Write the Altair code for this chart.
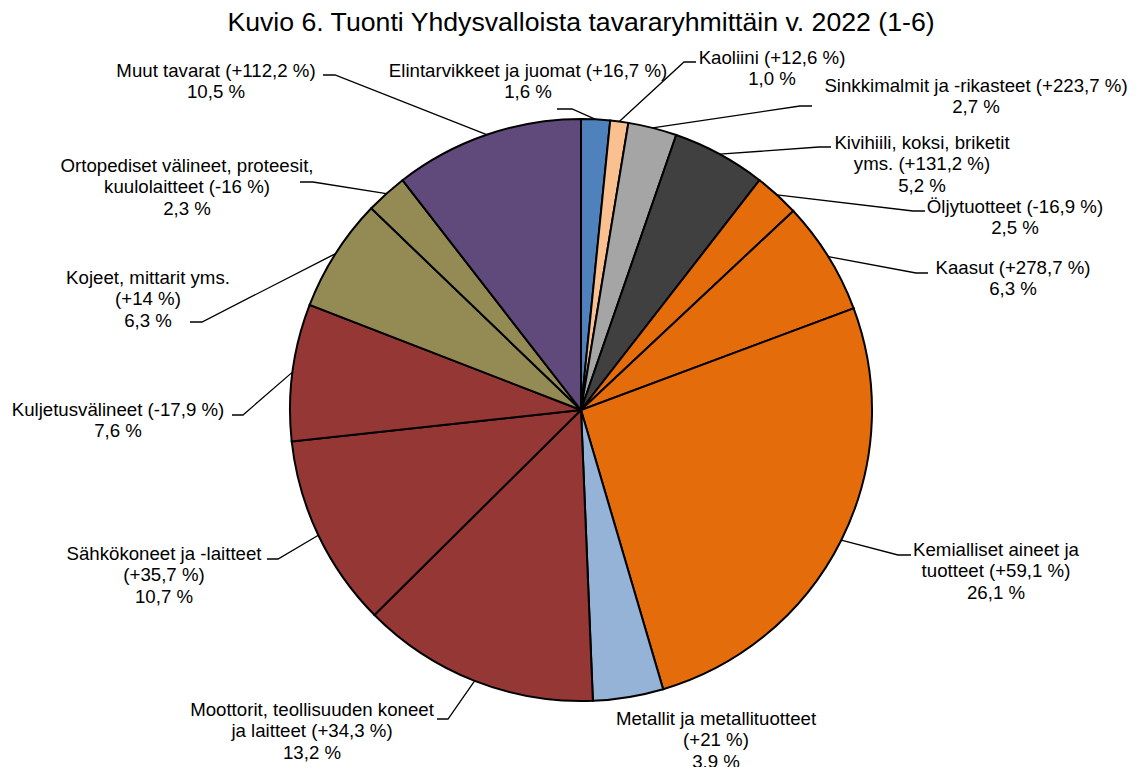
import math
import textwrap
import pandas as pd
import altair as alt

# ---------------- data ----------------
categories = [
    "Elintarvikkeet ja juomat",
    "Kaoliini",
    "Sinkkimalmit ja -rikasteet",
    "Kivihiili, koksi, briketit yms.",
    "Öljytuotteet",
    "Kaasut",
    "Kemialliset aineet ja tuotteet",
    "Metallit ja metallituotteet",
    "Moottorit, teollisuuden koneet ja laitteet",
    "Sähkökoneet ja -laitteet",
    "Kuljetusvälineet",
    "Kojeet, mittarit yms.",
    "Ortopediset välineet, proteesit, kuulolaitteet",
    "Muut tavarat",
]
shares = [1.6, 1.0, 2.7, 5.2, 2.5, 6.3, 26.1, 3.9, 13.2, 10.7, 7.6, 6.3, 2.3, 10.5]
changes = [16.7, 12.6, 223.7, 131.2, -16.9, 278.7, 59.1, 21, 34.3, 35.7, -17.9, 14, -16, 112.2]
slice_colors = [
    "#4F81BD", "#FAC090", "#A5A5A5", "#404040", "#E46C0A", "#E46C0A", "#E46C0A",
    "#95B3D7", "#953735", "#953735", "#953735", "#948A54", "#948A54", "#604A7B",
]
TITLE = "Kuvio 6. Tuonti Yhdysvalloista tavararyhmittäin v. 2022 (1-6)"

# ---------------- layout (page pixels) ----------------
FONT = "Liberation Sans"
PAGE_MARGIN = 8
PIE_CX, PIE_CY, R = 581, 410, 291
PAD_T, PAD_B, PAD_L = 60, 15, 73
W = 1000
H = 2 * (PIE_CY - PAGE_MARGIN - PAD_T)
PAD_R = 1120 - PAD_L - W
LABEL_FS = 18.67
LINE_H = 21.5
BASE_SHIFT = 6.5

# wrap width, label centre x, first-line centre y, leader end x, end y, elbow length
label_layout = [
    (40, 528, 70, 557, 109, 15),
    (40, 772, 57, 696, 62, -12),
    (60, 976, 85, 812, 106, -12),
    (26, 922, 142, 831, 147, -12),
    (40, 1015, 206, 925, 211, -12),
    (40, 1013, 267, 928, 273, -12),
    (21, 996, 549, 911, 555, -13),
    (27, 716, 718, None, None, 0),
    (30, 312, 709, 437, 719, 11),
    (24, 164, 553, 267, 559, 11),
    (40, 118, 409, 232, 415, 11),
    (21, 148, 277, 190, 322, 12),
    (32, 187, 165, 300, 182, 13),
    (40, 216, 70, 323, 75, 12),
]


def fi(v, fmt):
    return format(v, fmt).replace(".", ",")


pie_df = pd.DataFrame({
    "cat": categories,
    "share": shares,
    "idx": list(range(len(categories))),
})

total = sum(shares)
label_rows, line_rows = [], []
cum = 0.0
for i, (cat, s, ch) in enumerate(zip(categories, shares, changes)):
    wrap_w, lx, ly, ex, ey, elb = label_layout[i]
    full = f"{cat} ({fi(ch, '+g')} %)"
    lines = textwrap.wrap(full, width=wrap_w, break_on_hyphens=False)
    lines.append(f"{fi(s, '.1f')} %")
    label_rows.append({
        "lid": i,
        "txt": "\n".join(lines),
        "x": lx - PIE_CX,
        "y": ly + BASE_SHIFT - PIE_CY,
    })
    ang = (cum + s / 2) / total * 2 * math.pi
    cum += s
    if ex is not None:
        pts = [
            (R * math.sin(ang), -R * math.cos(ang)),
            (ex + elb - PIE_CX, ey - PIE_CY),
            (ex - PIE_CX, ey - PIE_CY),
        ]
        for k, (px, py) in enumerate(pts):
            line_rows.append({"lid": i, "ord": k, "x": px, "y": py})

label_df = pd.DataFrame(label_rows)
line_df = pd.DataFrame(line_rows)

xs = alt.Scale(domain=[-W / 2, W / 2], zero=False, nice=False)
ys = alt.Scale(domain=[-H / 2, H / 2], zero=False, nice=False, reverse=True)

pie = alt.Chart(pie_df).mark_arc(radius=R, stroke="black", strokeWidth=2).encode(
    theta=alt.Theta("share:Q", stack=True),
    order=alt.Order("idx:Q"),
    color=alt.Color("cat:N", scale=alt.Scale(domain=categories, range=slice_colors), legend=None),
)

leaders = alt.Chart(line_df).mark_line(color="black", strokeWidth=1.3).encode(
    x=alt.X("x:Q", scale=xs, axis=None),
    y=alt.Y("y:Q", scale=ys, axis=None),
    detail="lid:N",
    order=alt.Order("ord:Q"),
)

labels = alt.Chart(label_df).mark_text(
    font=FONT, fontSize=LABEL_FS, lineHeight=LINE_H, lineBreak="\n",
    align="center", baseline="alphabetic", color="black",
).encode(
    x=alt.X("x:Q", scale=xs, axis=None),
    y=alt.Y("y:Q", scale=ys, axis=None),
    text="txt:N",
)

chart = alt.layer(pie, leaders, labels).properties(
    width=W,
    height=H,
    autosize=alt.AutoSizeParams(type="none"),
    padding={"left": PAD_L, "right": PAD_R, "top": PAD_T, "bottom": PAD_B},
    title=alt.TitleParams(
        text=TITLE, font=FONT, fontSize=26.67, fontWeight="normal",
        color="black", anchor="middle", offset=12,
    ),
).configure_view(strokeWidth=0)

chart.save("out.html", embed_options={"renderer": "svg", "actions": False})
